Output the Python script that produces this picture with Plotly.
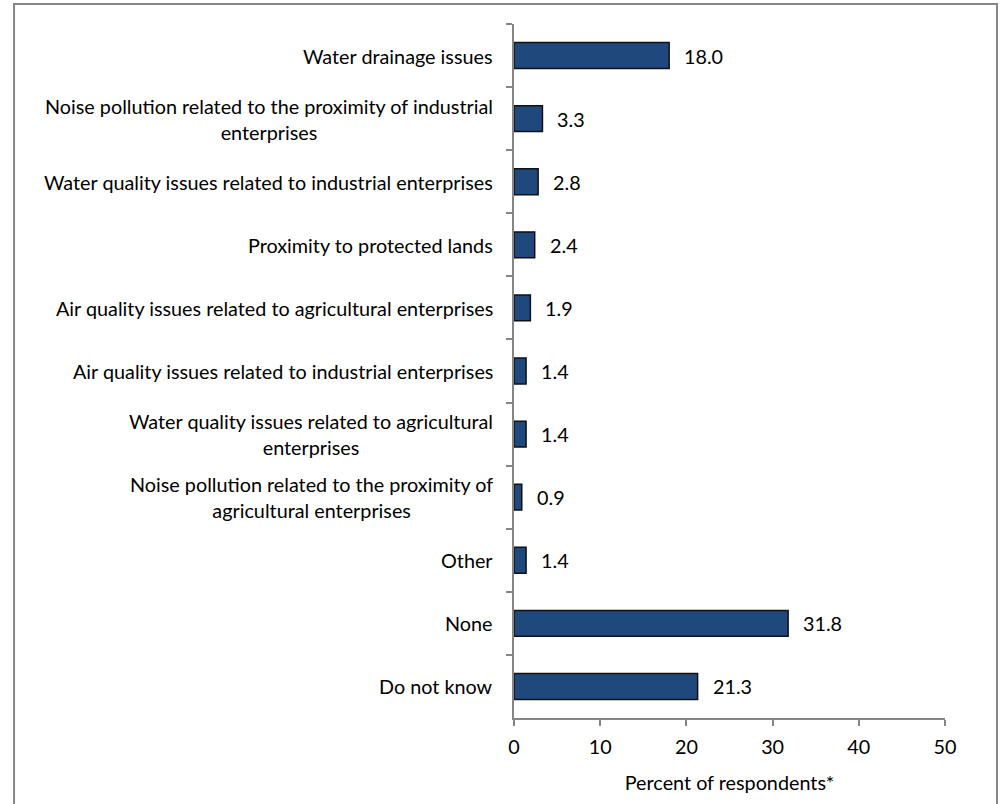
import plotly.graph_objects as go

categories = [
    "Water drainage issues",
    "Noise pollution related to the proximity of industrial<br>enterprises",
    "Water quality issues related to industrial enterprises",
    "Proximity to protected lands",
    "Air quality issues related to agricultural enterprises",
    "Air quality issues related to industrial enterprises",
    "Water quality issues related to agricultural<br>enterprises",
    "Noise pollution related to the proximity of<br>agricultural enterprises",
    "Other",
    "None",
    "Do not know",
]
values = [18.0, 3.3, 2.8, 2.4, 1.9, 1.4, 1.4, 0.9, 1.4, 31.8, 21.3]
value_labels = ["18.0", "3.3", "2.8", "2.4", "1.9", "1.4", "1.4", "0.9", "1.4", "31.8", "21.3"]
x_ticks = [0, 10, 20, 30, 40, 50]
x_title = "Percent of respondents*"

FONT = "Lato"
FS = 19.8
GRAY = "#868686"

fig = go.Figure()
fig.add_trace(go.Bar(
    y=categories, x=values, orientation="h",
    marker=dict(color="#1f497d", line=dict(color="#111111", width=1.5)),
    hoverinfo="x+y",
))

annotations = []
for c in categories:
    annotations.append(dict(
        xref="paper", yref="y", x=0, y=c, text=c, showarrow=False,
        xanchor="right", yanchor="middle", align="center", xshift=-19,
        font=dict(family=FONT, size=FS, color="#000000"),
    ))
for c, v, t in zip(categories, values, value_labels):
    annotations.append(dict(
        xref="x", yref="y", x=v, y=c, text=t, showarrow=False,
        xanchor="left", yanchor="middle", xshift=13,
        font=dict(family=FONT, size=FS, color="#000000"),
    ))

fig.update_layout(
    width=1002, height=804,
    margin=dict(l=514, r=57, t=24, b=86),
    paper_bgcolor="white", plot_bgcolor="white",
    showlegend=False,
    bargap=0.59,
    font=dict(family=FONT, size=FS, color="#000000"),
    annotations=annotations,
    shapes=[dict(
        type="rect", xref="paper", yref="paper",
        x0=-1.160, x1=1.1206, y0=-0.14, y1=1.0288,
        line=dict(color=GRAY, width=2), fillcolor="rgba(0,0,0,0)", layer="below",
    )],
)
fig.update_xaxes(
    range=[0, 50], tickvals=x_ticks, ticktext=[str(t) for t in x_ticks],
    showgrid=False, zeroline=False,
    showline=True, linecolor=GRAY, linewidth=1.5,
    ticks="outside", ticklen=6, tickcolor=GRAY, tickwidth=1.5,
    ticklabelstandoff=4,
    tickfont=dict(family=FONT, size=FS),
    title=dict(text=x_title, font=dict(family=FONT, size=FS), standoff=20),
)
fig.update_yaxes(
    autorange="reversed", showticklabels=False, showgrid=False, zeroline=False,
    showline=True, linecolor=GRAY, linewidth=1.5,
    ticks="outside", ticklen=6, tickcolor=GRAY, tickwidth=1.5, tickson="boundaries",
)

fig.write_html("out.html", config={"displayModeBar": False},
               post_script="document.body.style.margin='0px';")
